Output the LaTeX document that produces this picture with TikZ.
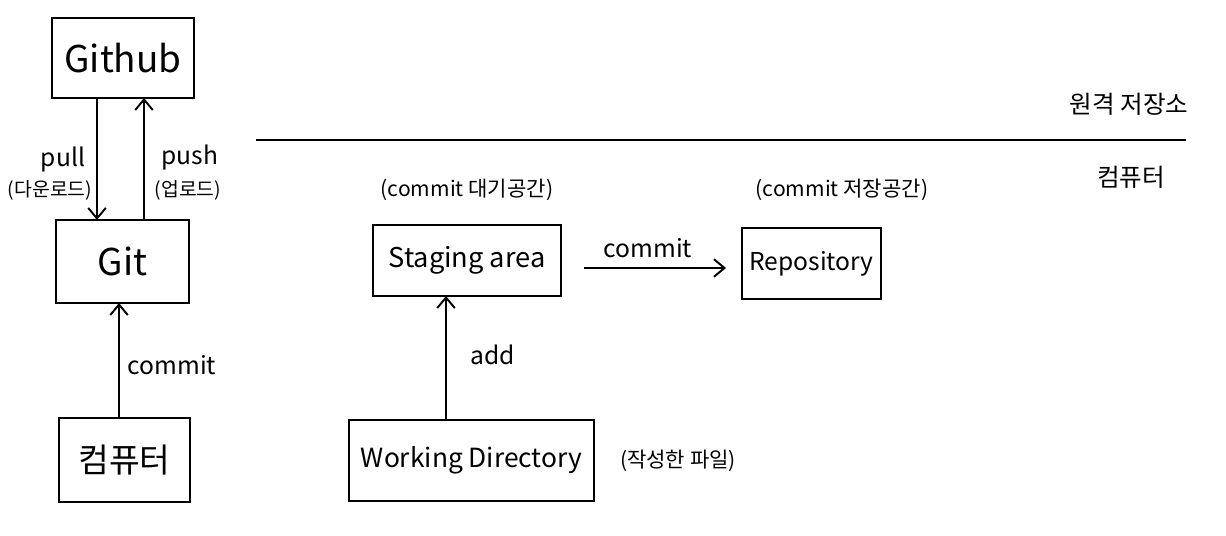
\documentclass[tikz,border=0pt]{standalone}
\usepackage{fontspec}
\setmainfont{Noto Sans CJK KR}
\usetikzlibrary{arrows.meta}
\begin{document}
\begin{tikzpicture}[x=0.02cm,y=-0.02cm,
  box/.style={draw,line width=1.1pt,inner sep=0pt,outer sep=0pt},
  conn/.style={line width=1.1pt,-{Straight Barb[length=6pt,width=10pt,line width=1.1pt]}},
  lbl/.style={inner sep=0pt,font=\fontsize{14}{16}\selectfont},
  note/.style={inner sep=0pt,font=\fontsize{11}{13}\selectfont}]
\useasboundingbox (0,0) rectangle (1226,536);
% left column
\node[box,minimum width=142*0.02cm,minimum height=80*0.02cm,font=\fontsize{21}{24}\selectfont] (github) at (123,58) {Github};
\node[box,minimum width=133*0.02cm,minimum height=83*0.02cm,font=\fontsize{21}{24}\selectfont] (git) at (122.5,261.5) {Git};
\node[box,minimum width=131*0.02cm,minimum height=84*0.02cm,font=\fontsize{19}{22}\selectfont] (pc) at (124.5,460) {컴퓨터};
\draw[conn] (github.south -| 97,0) -- (git.north -| 97,0);
\draw[conn] (git.north -| 144,0) -- (github.south -| 144,0);
\draw[conn] (pc.north -| 119,0) -- (git.south -| 119,0);
\node[lbl] (pull) at (63,160) {pull};
\node[note] (pulln) at (50,190) {(다운로드)};
\node[lbl] (push) at (190,158) {push};
\node[note] (pushn) at (188,190) {(업로드)};
\node[lbl] (commit1) at (172,365) {commit};
% divider
\coordinate (divL) at (256,140);
\coordinate (divR) at (1186,140);
\draw[line width=1.1pt] (divL) -- (divR);
\node[note,font=\fontsize{14}{16}\selectfont] (remote) at (1129,104) {원격 저장소};
\node[note,font=\fontsize{14}{16}\selectfont] (local) at (1131,177) {컴퓨터};
% right part
\node[box,minimum width=188*0.02cm,minimum height=71*0.02cm,font=\fontsize{15.5}{18}\selectfont] (staging) at (467,260.5) {Staging area};
\node[box,minimum width=139*0.02cm,minimum height=71*0.02cm,font=\fontsize{14}{17}\selectfont] (repo) at (811.5,263.5) {Repository};
\node[box,minimum width=245*0.02cm,minimum height=81*0.02cm,font=\fontsize{15}{18}\selectfont] (wd) at (471.5,460.5) {Working Directory};
\draw[conn] (584,268) coordinate (cs) -- (726,268) coordinate (ce);
\node[lbl] (commit2) at (648,248) {commit};
\draw[conn] (wd.north -| 446,0) -- (staging.south -| 446,0);
\node[lbl] (add) at (493,355) {add};
\node[note,font=\fontsize{12}{14}\selectfont] (stagingn) at (467,190) {(commit 대기공간)};
\node[note,font=\fontsize{12}{14}\selectfont] (repon) at (842,190) {(commit 저장공간)};
\node[note,font=\fontsize{12}{14}\selectfont] (wdn) at (678,461) {(작성한 파일)};
\end{tikzpicture}
\end{document}
